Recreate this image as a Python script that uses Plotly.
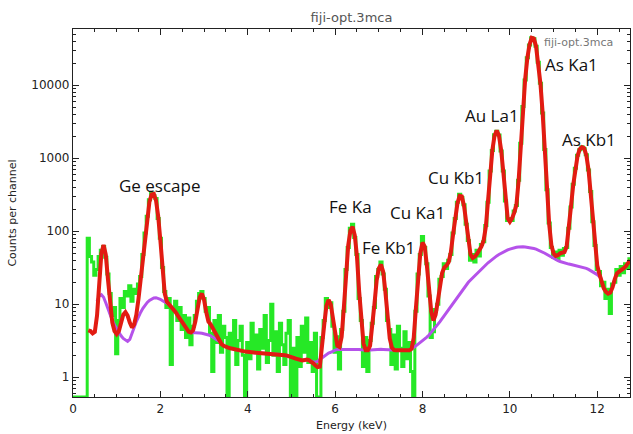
import numpy as np
import plotly.graph_objects as go

# ---- data ----
# channel energies (keV), 0.05 keV bins
energy = np.round(np.arange(256) * 0.05, 2)

# measured counts per channel (green histogram), channels 0..255
counts = [
    0, 0, 0, 0, 0, 0, 0,
    80, 45, 38, 25, 30, 45, 55, 62, 44, 26, 14, 7, 9, 2.1,
    6, 12, 9, 15, 13, 18, 11, 16, 14, 19, 24, 48, 95, 160, 270, 335, 310, 280, 150, 80,
    32, 15, 9, 12, 1.5, 8, 11, 6, 9, 4.5, 7, 3.5, 6.5, 2.8, 5, 7, 11, 14, 15, 12,
    8, 9, 4, 1.2, 6, 3, 7, 2.2, 5, 3.5, 0, 4, 2.5, 6, 1.5, 3.2, 5, 2, 0, 3,
    1.8, 5.5, 2.2, 3.8, 1.3, 4.5, 2.5, 7, 1.6, 3.2, 10, 2, 4.2, 1.2, 5.5, 2.8, 1.5, 4, 6, 0,
    2.5, 0, 3.5, 1.4, 5, 2.2, 6.5, 1.6, 3, 1.2, 4, 0, 0, 3.5, 6, 12, 9, 10.5, 5, 2.2,
    3.6, 1.3, 4.5, 8, 30, 60, 110, 125, 82, 48, 12, 6, 1.4, 3.5, 1.2, 3.2, 5.5, 9, 24, 30,
    38, 26, 16, 6, 4.5, 1.5, 3.8, 1.3, 5, 2.5, 1.4, 4.2, 1.8, 3, 1.2, 0, 8, 26, 48, 85,
    60, 36, 13, 3.5, 4.2, 8.5, 10, 22, 24, 36, 31, 40, 48, 95, 150, 250, 320, 290, 230, 125,
    75, 40, 48, 38, 55, 46, 66, 72, 120, 250, 670, 1280, 2100, 2350, 2080, 1260, 670, 260, 140, 150,
    140, 190, 225, 500, 1600, 5100, 11800, 23800, 35500, 44800, 43200, 34300, 20700, 10600, 4150, 1320, 370, 130, 60, 44,
    52, 41, 55, 47, 58, 60, 110, 215, 440, 730, 1100, 1310, 1440, 1350, 1120, 690, 350, 135, 64, 30,
    28, 18, 20, 12, 16, 7.5, 19, 20, 30, 25, 33, 27, 36, 31, 42,
]

# fitted spectrum (red), channels 7..255
fit = [
    4.4, 4.3, 4.0, 4.2, 7, 20, 50, 65, 48, 22, 9.5, 5.6, 4.3, 3.9,
    4.3, 5.6, 7.2, 7.8, 7.0, 5.6, 4.8, 5.3, 7.2, 12, 22, 44, 90, 165, 255, 320, 325, 265, 160, 75,
    30, 14, 10.8, 10.0, 9.3, 8.6, 7.8, 7.0, 6.3, 5.6, 5.0, 4.5, 4.2, 4.1, 4.4, 5.8, 8.8, 12.5, 14, 11.5,
    7.8, 5.8, 5.3, 4.7, 4.0, 3.5, 3.1, 2.85, 2.7, 2.6, 2.55, 2.5, 2.45, 2.4, 2.35, 2.32, 2.3, 2.28, 2.25, 2.22,
    2.2, 2.18, 2.17, 2.16, 2.15, 2.14, 2.13, 2.12, 2.12, 2.11, 2.1, 2.1, 2.1, 2.08, 2.05, 2.02, 2.0, 1.98, 1.95, 1.9,
    1.85, 1.8, 1.75, 1.72, 1.7, 1.72, 1.75, 1.72, 1.65, 1.55, 1.45, 1.38, 1.4, 2.4, 5.2, 9.5, 11.5, 10, 6.2, 3.5,
    2.7, 2.6, 3.6, 9, 28, 64, 102, 115, 88, 45, 15, 5.2, 2.9, 2.35, 2.35, 2.7, 4.6, 10, 21, 31,
    35, 28, 15, 6.8, 3.4, 2.55, 2.36, 2.34, 2.33, 2.32, 2.32, 2.32, 2.33, 2.34, 2.45, 3.5, 9, 24, 50, 70,
    62, 34, 15, 8, 6.0, 7.2, 11, 19, 27, 32, 34, 38, 52, 90, 155, 240, 305, 300, 225, 130,
    72, 48, 43, 45, 49, 55, 62, 75, 115, 260, 650, 1300, 2050, 2400, 2050, 1300, 650, 270, 150, 135,
    150, 180, 230, 490, 1650, 5000, 12000, 23500, 36000, 44500, 43500, 34000, 21000, 10500, 4200, 1300, 380, 125, 65, 50,
    46, 47, 50, 51, 52, 62, 105, 220, 430, 740, 1080, 1330, 1420, 1370, 1100, 700, 340, 140, 60, 34,
    26, 20, 16.5, 14.8, 14, 14.5, 17, 22, 26.5, 28, 29, 31, 33, 36, 40,
]

# fitted continuum background (purple), channels 11..242
background = [
    11, 13, 13.5, 12.5, 10.5, 8.6, 7.1, 6.0, 5.2, 4.6,
    4.1, 3.7, 3.4, 3.2, 3.1, 3.3, 3.9, 4.8, 5.8, 6.8, 7.8, 8.8, 9.7, 10.6, 11.3, 11.9, 12.2, 12.3, 12.1, 11.7,
    11.2, 10.6, 10.3, 9.9, 9.3, 8.6, 7.8, 7.0, 6.3, 5.6, 5.0, 4.5, 4.2, 4.1, 4.1, 4.1, 4.1, 4.05, 4.0, 3.95,
    3.9, 3.8, 3.7, 3.55, 3.4, 3.25, 3.1, 2.85, 2.7, 2.6, 2.55, 2.5, 2.45, 2.4, 2.35, 2.32, 2.3, 2.28, 2.25, 2.22,
    2.2, 2.18, 2.17, 2.16, 2.15, 2.14, 2.13, 2.12, 2.12, 2.11, 2.1, 2.1, 2.1, 2.08, 2.05, 2.02, 2.0, 1.98, 1.95, 1.9,
    1.85, 1.8, 1.75, 1.72, 1.7, 1.72, 1.75, 1.72, 1.65, 1.62, 1.62, 1.65, 1.75, 1.85, 1.95, 2.05, 2.15, 2.2, 2.3, 2.35,
    2.4, 2.4, 2.42, 2.42, 2.43, 2.44, 2.45, 2.45, 2.44, 2.42, 2.4, 2.38, 2.36, 2.35, 2.35, 2.36, 2.38, 2.4, 2.41, 2.42,
    2.42, 2.41, 2.4, 2.38, 2.36, 2.35, 2.34, 2.33, 2.32, 2.32, 2.32, 2.33, 2.34, 2.36, 2.45, 2.55, 2.7, 2.85, 3.0, 3.15,
    3.35, 3.55, 3.8, 4.1, 4.4, 4.8, 5.3, 5.8, 6.4, 7.0, 7.7, 8.5, 9.4, 10.4, 11.5, 12.7, 14, 15.5, 17, 18.5,
    20, 21.5, 23, 25, 27, 29, 31, 33, 35, 37, 39, 41.5, 44, 46, 48, 50, 52, 54, 55.5, 57,
    58.5, 59.5, 60.5, 61, 61.5, 61.5, 61, 60.5, 60, 59, 58, 57, 55.5, 54, 52, 50, 48, 46, 44, 42.5,
    41, 39.5, 38.5, 37.5, 36.5, 36, 35.5, 35, 34.5, 34, 33.5, 33, 32.5, 32, 31, 30, 29, 28, 27, 25.5,
    24, 22,
]

# peak labels: (text, energy keV, counts)
peak_labels = ["Ge escape", "Fe Ka", "Fe Kb1", "Cu Ka1", "Cu Kb1", "Au La1", "As Ka1", "As Kb1"]
label_energy = [1.99, 6.36, 7.23, 7.89, 8.76, 9.59, 11.40, 11.81]
label_counts = [425, 220, 60, 178, 540, 3800, 19500, 1780]

title_text = "fiji-opt.3mca"
x_range = [0, 12.75]
y_range_log = [-0.27, 4.77]

# ---- figure ----
floor = 10 ** y_range_log[0]
counts_arr = np.array(counts, dtype=float)
counts_plot = np.where(counts_arr > 0, counts_arr, floor)

fig = go.Figure()
fig.add_trace(go.Scatter(x=energy, y=counts_plot, mode="lines", line_shape="hvh",
                         line=dict(color="#26e826", width=3), hoverinfo="skip"))
fig.add_trace(go.Scatter(x=energy[11:11 + len(background)], y=background, mode="lines",
                         line=dict(color="#b552ea", width=3), hoverinfo="skip"))
fig.add_trace(go.Scatter(x=energy[7:7 + len(fit)], y=fit, mode="lines",
                         line=dict(color="#e21b12", width=4), hoverinfo="skip"))

annotations = []
for t, e, c in zip(peak_labels, label_energy, label_counts):
    annotations.append(dict(x=e, y=np.log10(c), xref="x", yref="y", text=t, showarrow=False,
                            font=dict(family="Open Sans", size=17, color="#111"),
                            xanchor="center", yanchor="middle"))
annotations.append(dict(x=11.56, y=np.log10(38000), xref="x", yref="y", text=title_text,
                        showarrow=False, font=dict(family="DejaVu Sans", size=11, color="#777"),
                        xanchor="center", yanchor="middle"))

axis_common = dict(showline=True, linecolor="#222", linewidth=1.3, mirror="ticks",
                   ticks="inside", tickcolor="#222", tickwidth=1, showgrid=False,
                   zeroline=False, tickfont=dict(family="DejaVu Sans", size=12, color="#222"))

fig.update_layout(
    width=633, height=434,
    margin=dict(l=73, r=3, t=29, b=37),
    paper_bgcolor="white", plot_bgcolor="white",
    showlegend=False,
    title=dict(text=title_text, x=0.5, xref="paper", xanchor="center",
               y=1 - 17 / 434, yref="container", yanchor="middle",
               font=dict(family="DejaVu Sans", size=13, color="#555")),
    annotations=annotations,
    xaxis=dict(range=x_range, dtick=2, tick0=0, ticklen=6,
               minor=dict(dtick=0.5, ticks="inside", ticklen=3, tickcolor="#222"),
               title=dict(text="Energy (keV)", standoff=6,
                          font=dict(family="DejaVu Sans", size=11, color="#222")),
               **axis_common),
    yaxis=dict(type="log", range=y_range_log, dtick=1, tickformat="d", ticklen=6,
               minor=dict(dtick="D1", ticks="inside", ticklen=3, tickcolor="#222"),
               title=dict(text="Counts per channel", standoff=12,
                          font=dict(family="DejaVu Sans", size=11, color="#222")),
               **axis_common),
)

fig.write_html("out.html")
